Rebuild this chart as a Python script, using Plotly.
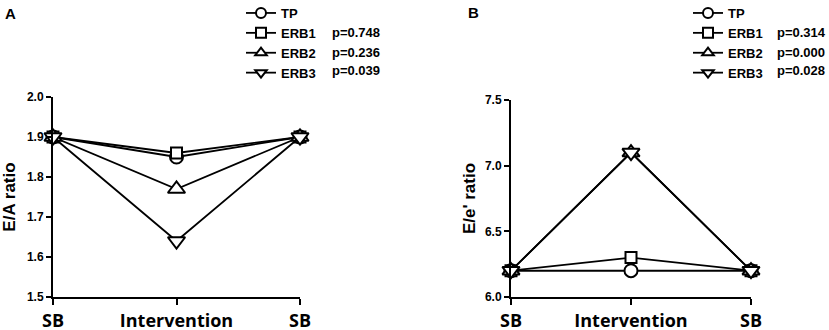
import plotly.graph_objects as go

# ---- data ----
stages = ["SB", "Intervention", "SB"]
series_names = ["TP", "ERB1", "ERB2", "ERB3"]
ea_tp = [1.90, 1.85, 1.90]
ea_erb1 = [1.90, 1.86, 1.90]
ea_erb2 = [1.90, 1.77, 1.90]
ea_erb3 = [1.90, 1.64, 1.90]
ee_tp = [6.2, 6.2, 6.2]
ee_erb1 = [6.2, 6.3, 6.2]
ee_erb2 = [6.2, 7.1, 6.2]
ee_erb3 = [6.2, 7.1, 6.2]
p_values_a = ["p=0.748", "p=0.236", "p=0.039"]
p_values_b = ["p=0.314", "p=0.000", "p=0.028"]
ea_ticks = [1.5, 1.6, 1.7, 1.8, 1.9, 2.0]
ee_ticks = [6.0, 6.5, 7.0, 7.5]

x_pos = list(range(len(stages)))
symbols = ["circle", "square", "triangle-up", "triangle-down"]
sizes = [13, 11, 15, 15]

W, H = 829, 330
def px_x(v):
    return v / W
def px_y(v):
    return 1 - v / H

fig = go.Figure()

panels = [
    ("x", "y", [ea_tp, ea_erb1, ea_erb2, ea_erb3], "legend"),
    ("x2", "y2", [ee_tp, ee_erb1, ee_erb2, ee_erb3], "legend2"),
]
for xa, ya, data, leg in panels:
    for name, vals, sym, sz in zip(series_names, data, symbols, sizes):
        fig.add_trace(go.Scatter(
            x=x_pos, y=vals, mode="lines+markers", name=name,
            xaxis=xa, yaxis=ya, showlegend=False, cliponaxis=False,
            line=dict(color="black", width=1.8),
            marker=dict(symbol=sym, size=sz, color="white",
                        line=dict(color="black", width=2)),
        ))
    # legend-only entries
    for name, sym in zip(series_names, symbols):
        fig.add_trace(go.Scatter(
            x=[None], y=[None], mode="lines+markers", name=name,
            xaxis=xa, yaxis=ya, legend=leg, showlegend=True,
            line=dict(color="black", width=1.8),
            marker=dict(symbol=sym, size=10, color="white",
                        line=dict(color="black", width=2)),
        ))

tick_font_y = dict(family="Liberation Sans Narrow, Arial Narrow, Liberation Sans, Arial",
                   size=12, color="black", weight="bold")
tick_font_x = dict(family="Open Sans, Segoe UI, sans-serif", size=18,
                   color="black", weight="bold")
title_font = dict(family="Liberation Sans, Arial", size=17, color="black", weight="bold")

xcommon = dict(range=[0, 2], tickmode="array", tickvals=x_pos, ticktext=stages,
               showline=True, linecolor="black", linewidth=2, ticks="outside",
               ticklen=6, tickwidth=2, tickcolor="black", showgrid=False,
               zeroline=False, tickfont=tick_font_x, ticklabelstandoff=0,
               automargin=False)
ycommon = dict(showline=True, linecolor="black", linewidth=2, ticks="outside",
               ticklen=5, tickwidth=2, tickcolor="black", showgrid=False,
               zeroline=False, tickfont=tick_font_y, tickformat=".1f",
               tickmode="array", automargin=False)

leg_font = dict(family="Liberation Sans, Arial", size=13, color="black", weight="bold")
leg_top = 1 + 2 / H

fig.update_layout(
    width=W, height=H,
    margin=dict(l=0, r=0, t=0, b=0, autoexpand=False),
    plot_bgcolor="white", paper_bgcolor="white",
    xaxis=dict(domain=[px_x(53), px_x(300)], anchor="y", **xcommon),
    yaxis=dict(domain=[px_y(297), px_y(97)], anchor="x", range=[1.5, 2.0],
               tickvals=ea_ticks,
               title=dict(text="E/A ratio", font=title_font, standoff=16),
               **ycommon),
    xaxis2=dict(domain=[px_x(511), px_x(751)], anchor="y2", **xcommon),
    yaxis2=dict(domain=[px_y(297), px_y(100)], anchor="x2", range=[6.0, 7.5],
                tickvals=ee_ticks,
                title=dict(text="E/e' ratio", font=title_font, standoff=5),
                **ycommon),
    legend=dict(x=px_x(241), y=leg_top, xanchor="left", yanchor="top",
                font=leg_font, bgcolor="rgba(0,0,0,0)", tracegroupgap=0),
    legend2=dict(x=px_x(688), y=leg_top, xanchor="left", yanchor="top",
                 font=leg_font, bgcolor="rgba(0,0,0,0)", tracegroupgap=0),
    showlegend=True,
)

ann_font = dict(family="Liberation Sans, Arial", size=13, color="black", weight="bold")
row_y = [32.5, 52, 71]
for txt, ry in zip(p_values_a, row_y):
    fig.add_annotation(x=px_x(330), y=px_y(ry), xref="paper", yref="paper",
                       text=txt, showarrow=False, xanchor="left", yanchor="middle",
                       font=ann_font)
for txt, ry in zip(p_values_b, row_y):
    fig.add_annotation(x=px_x(775), y=px_y(ry), xref="paper", yref="paper",
                       text=txt, showarrow=False, xanchor="left", yanchor="middle",
                       font=ann_font)

panel_font = dict(family="Liberation Sans, Arial", size=15, color="black", weight="bold")
fig.add_annotation(x=px_x(3), y=px_y(3), xref="paper", yref="paper", text="A",
                   showarrow=False, xanchor="left", yanchor="top", font=panel_font)
fig.add_annotation(x=px_x(466), y=px_y(2), xref="paper", yref="paper", text="B",
                   showarrow=False, xanchor="left", yanchor="top", font=panel_font)

# remove the browser's default 8px body margin so the figure fills the window
fig.write_html("out.html",
               config={"displayModeBar": False},
               post_script="document.body.style.margin='0';"
                           "document.body.style.overflow='hidden';")
